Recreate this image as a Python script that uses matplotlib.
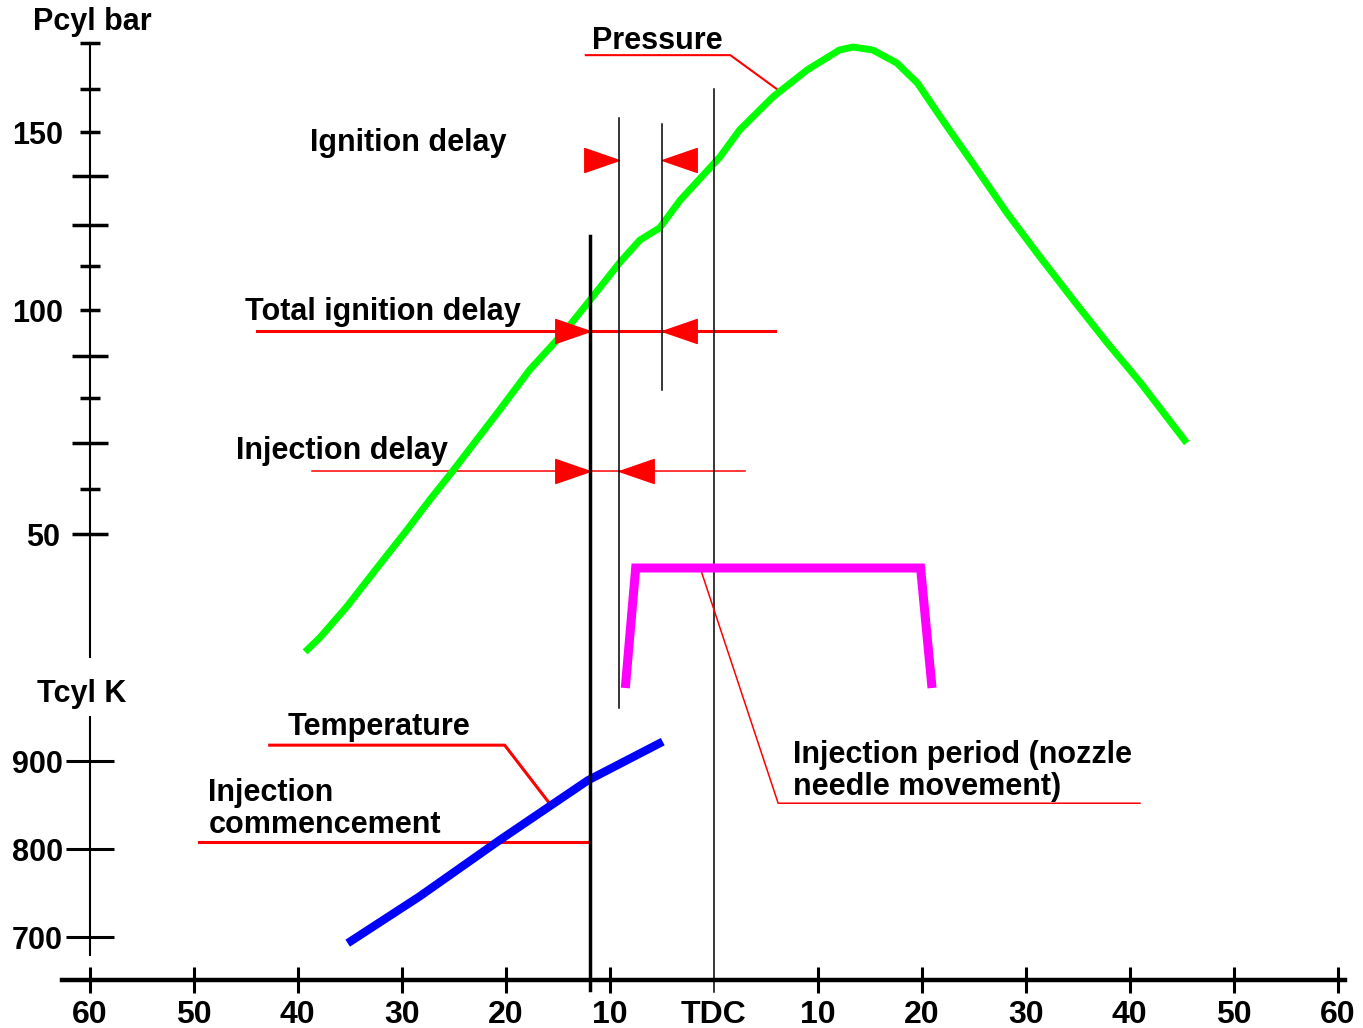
import numpy as np
import matplotlib
matplotlib.use("Agg")
import matplotlib.pyplot as plt
from matplotlib.path import Path
from matplotlib.ticker import FixedLocator, FuncFormatter

plt.rcParams["font.family"] = ["Liberation Sans", "DejaVu Sans"]
plt.rcParams["font.weight"] = "bold"

# crank angle in degrees (negative = before TDC)
crank_pressure = [-39.3, -37.9, -35.3, -32.4, -29.5, -27.3, -25.1, -20.6, -17.7, -14.3,
                  -11.9, -9.0, -7.1, -5.2, -3.2, 0.6, 2.5, 5.7, 9.0, 12.1, 13.4, 15.3,
                  17.6, 19.6, 21.8, 24.9, 28.2, 31.4, 34.6, 37.8, 41.0, 45.5]
pcyl_bar = [23.8, 26.9, 33.8, 42.4, 50.9, 57.6, 63.9, 77.3, 86.7, 95.4,
            102.8, 113.7, 120.4, 124.1, 131.4, 142.9, 150.6, 160.2, 167.7, 173.1, 173.9, 173.1,
            169.6, 164.1, 154.4, 141.2, 128.1, 115.2, 102.8, 93.0, 83.8, 70.0]

crank_temp = [-35.2, -28.3, -20.6, -12.1, -4.9]
tcyl_k = [693, 746, 810, 878, 922]

crank_needle = [-8.5, -7.5, 19.9, 21.0]
needle_lift = [0, 1, 1, 0]

injection_start = -11.9
ignition_start = -9.1
ignition_end = -5.0
tdc = 0.0

crank_ticks = [-60, -50, -40, -30, -20, -10, 0, 10, 20, 30, 40, 50, 60]
crank_labels = ["60", "50", "40", "30", "20", "10", "TDC", "10", "20", "30", "40", "50", "60"]
p_ticks_short = [175, 162.5, 150, 112.5, 100, 80, 60]
p_ticks_long = [137.5, 125, 90, 70, 50]
p_labels = {150: "150", 100: "100", 50: "50"}
t_ticks = [700, 800, 900]

# hand-drawn pressure axis: bar value -> figure row (pixels from top)
p_scale_bar = [-59.8, 50, 60, 70, 80, 90, 100, 112.5, 125, 137.5, 150, 162.5, 175, 186.7]
p_scale_row = [1028, 534, 489, 443, 398, 356, 310, 266, 225, 176, 132, 89, 43, 0]

RED = "#FF0000"
FIG_H = 1028


def p_fwd(b):
    return np.interp(b, p_scale_bar, -np.array(p_scale_row, dtype=float))


def p_inv(v):
    return np.interp(v, -np.array(p_scale_row, dtype=float), p_scale_bar)


def frac(row):
    return 1 - row / FIG_H


def head(direction):
    verts = [(0, 0), (-2 * direction, 0.69), (-2 * direction, -0.69), (0, 0)]
    return Path(verts, [Path.MOVETO, Path.LINETO, Path.LINETO, Path.CLOSEPOLY])


fig = plt.figure(figsize=(13.63, 10.28), dpi=100)
xlim = (-68.64, 62.45)

ax_p = fig.add_axes([0, 0, 1, 1])
ax_p.set_yscale("function", functions=(p_fwd, p_inv))
ax_p.set_ylim(-59.8, 186.7)
ax_t = fig.add_axes([0, 0, 1, 1], facecolor="none")
ax_t.set_ylim(596.6, 1764.8)
ax_l = fig.add_axes([0, 0, 1, 1], facecolor="none")
ax_l.set_ylim(-2.833, 5.733)
for ax in (ax_p, ax_t, ax_l):
    ax.set_xlim(*xlim)
    for s in ax.spines.values():
        s.set_visible(False)
    ax.set_xticks([])
    ax.set_yticks([])

# pressure axis
ax_p.spines["left"].set_visible(True)
ax_p.spines["left"].set_position(("data", -60))
ax_p.spines["left"].set_bounds(22.7, 175)
ax_p.spines["left"].set_linewidth(1.5)
ax_p.yaxis.set_major_locator(FixedLocator(p_ticks_short))
ax_p.yaxis.set_minor_locator(FixedLocator(p_ticks_long))
fmt = FuncFormatter(lambda v, pos: p_labels.get(round(v, 1), ""))
ax_p.yaxis.set_major_formatter(fmt)
ax_p.yaxis.set_minor_formatter(fmt)
ax_p.tick_params(axis="y", which="major", direction="inout", length=14.4, width=2.5, pad=12, labelsize=22)
ax_p.tick_params(axis="y", which="minor", direction="inout", length=26, width=2.5, pad=8.6, labelsize=22)

# temperature axis + crank angle axis
ax_t.spines["left"].set_visible(True)
ax_t.spines["left"].set_position(("data", -60))
ax_t.spines["left"].set_bounds(679.5, 950)
ax_t.spines["left"].set_linewidth(1.5)
ax_t.set_yticks(t_ticks, [str(t) for t in t_ticks])
ax_t.tick_params(axis="y", direction="inout", length=34, width=2.2, pad=2.5, labelsize=22)

ax_t.spines["bottom"].set_visible(True)
ax_t.spines["bottom"].set_position(("axes", frac(980)))
ax_t.spines["bottom"].set_bounds(-62.7, 60.7)
ax_t.spines["bottom"].set_linewidth(3.2)
ax_t.set_xticks(crank_ticks, crank_labels)
ax_t.tick_params(axis="x", direction="inout", length=18.7, width=2.2, pad=5, labelsize=23)
# TDC has no tick mark of its own, only the TDC line
ax_t.xaxis.get_major_ticks()[crank_ticks.index(0)].tick1line.set_visible(False)

txt = dict(fontsize=22, fontweight="bold", va="center")
ax_p.text(-65.5, 180.7, "Pcyl bar", ha="left", **txt)
ax_t.text(-65.1, 976, "Tcyl K", ha="left", **txt)

# curves
ax_p.plot(crank_pressure, pcyl_bar, color="#00FF00", lw=5, solid_capstyle="butt",
          solid_joinstyle="round", zorder=3)
ax_t.plot(crank_temp, tcyl_k, color="#0000FF", lw=6, solid_capstyle="butt",
          solid_joinstyle="round", zorder=3)
ax_l.plot(crank_needle, needle_lift, color="#FF00FF", lw=6.5, solid_capstyle="butt",
          solid_joinstyle="miter", zorder=3)

# event lines
ax_l.axvline(injection_start, ymin=frac(990), ymax=frac(236), color="black", lw=2.5)
ax_l.axvline(ignition_start, ymin=frac(708), ymax=frac(118), color="black", lw=1.1)
ax_l.axvline(ignition_end, ymin=frac(390), ymax=frac(124), color="black", lw=1.1)
ax_l.axvline(tdc, ymin=frac(992), ymax=frac(89), color="black", lw=1.1)

# pressure label
ax_p.plot([-12.3, 1.6, 6.2], [171.7, 171.7, 162.2], color=RED, lw=1.5)
ax_p.text(-11.7, 175.5, "Pressure", ha="left", **txt)

# ignition delay
ax_p.text(-38.8, 146.9, "Ignition delay", ha="left", **txt)
ax_p.plot([ignition_start], [142], marker=head(1), ms=50, color=RED, lw=0)
ax_p.plot([ignition_end], [142], marker=head(-1), ms=50, color=RED, lw=0)

# total ignition delay
ax_p.plot([-43.9, 5.9], [95.4, 95.4], color=RED, lw=2.2)
ax_p.plot([injection_start], [95.4], marker=head(1), ms=50, color=RED, lw=0, zorder=4)
ax_p.plot([ignition_end], [95.4], marker=head(-1), ms=50, color=RED, lw=0, zorder=4)
ax_p.text(-45.06, 99.6, "Total ignition delay", ha="left", **txt)

# injection delay
ax_p.plot([-38.6, 3.0], [63.9, 63.9], color=RED, lw=1.1)
ax_p.plot([injection_start], [63.9], marker=head(1), ms=50, color=RED, lw=0, zorder=4)
ax_p.plot([ignition_start], [63.9], marker=head(-1), ms=50, color=RED, lw=0, zorder=4)
ax_p.text(-45.9, 68.3, "Injection delay", ha="left", **txt)

# temperature annotations
ax_t.plot([-42.7, -20.1, -15.8], [918, 918, 852], color=RED, lw=2.2)
ax_t.text(-41.0, 938.6, "Temperature", ha="left", **txt)
ax_t.plot([-49.5, injection_start], [808, 808], color=RED, lw=2.2)
ax_t.text(-48.6, 845.5, "Injection\ncommencement", ha="left", linespacing=1.1, **txt)

# injection period
ax_l.plot([-1.3, 6.2, 41.0], [1, -0.96, -0.96], color=RED, lw=1.1)
ax_l.text(7.6, -0.69, "Injection period (nozzle\nneedle movement)", ha="left", linespacing=1.1, **txt)

fig.savefig("out.png", dpi=100, facecolor="white")
